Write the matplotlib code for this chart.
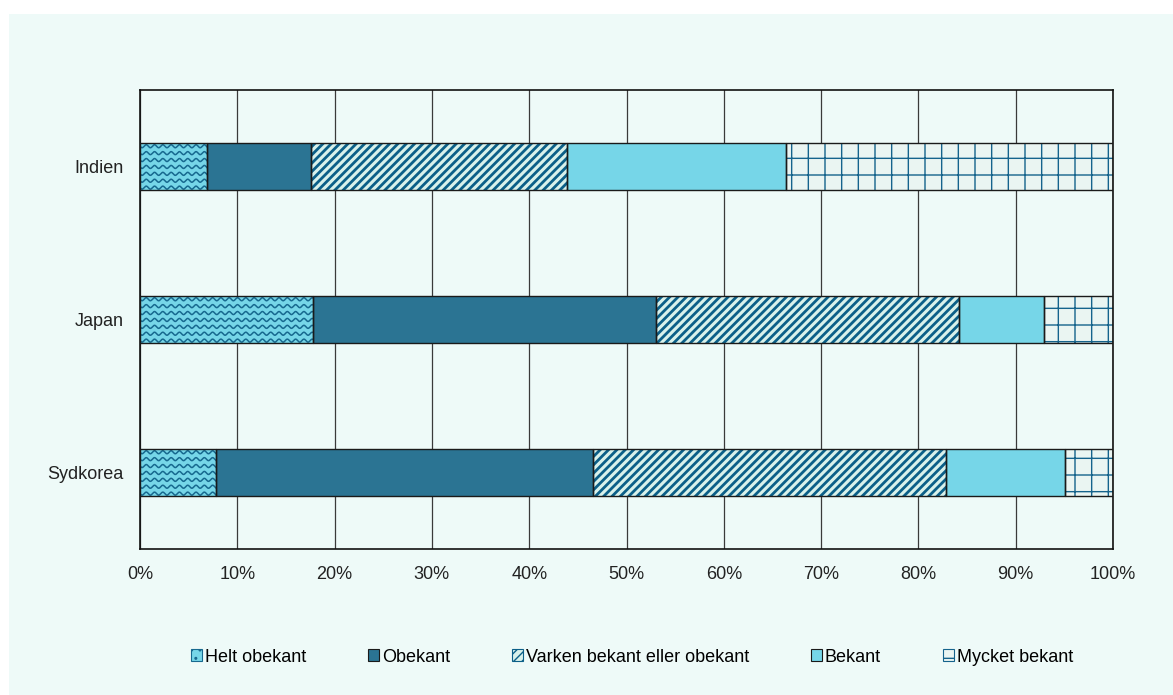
import numpy as np
import matplotlib.pyplot as plt
from matplotlib.patches import Patch, Rectangle

plt.rcParams['font.family'] = ['Liberation Sans', 'DejaVu Sans']

countries = ['Indien', 'Japan', 'Sydkorea']
labels = ['Helt obekant', 'Obekant', 'Varken bekant eller obekant', 'Bekant', 'Mycket bekant']
helt_obekant = [6.9, 17.8, 7.8]
obekant = [10.7, 35.2, 38.8]
varken = [26.3, 31.2, 36.2]
bekant = [22.5, 8.7, 12.3]
mycket_bekant = [33.6, 7.1, 4.9]
series = [helt_obekant, obekant, varken, bekant, mycket_bekant]

# fill, hatch, hatch colour, hatch linewidth
styles = [
    ('#76d6e8', None, '#17698f', 1.0),
    ('#2b7493', None, '#2b7493', 1.0),
    ('#d8f1eb', '////', '#0b5f88', 2.0),
    ('#76d6e8', None, '#76d6e8', 1.0),
    ('#eaf5f2', '+', '#15638c', 1.0),
]

fig = plt.figure(figsize=(11.73, 6.95), dpi=100, facecolor='white')
fig.patches.append(Rectangle((9 / 1173, 0), 1, 1 - 14 / 695, transform=fig.transFigure,
                             facecolor='#eefaf8', edgecolor='none', zorder=-10))
ax = fig.add_axes([140 / 1173, 1 - 549 / 695, 973 / 1173, 459 / 695])
ax.set_facecolor('#eefaf8')

y = np.arange(len(countries))
left = np.zeros(len(countries))
bar_groups = []
for vals, (fc, hatch, hc, hlw) in zip(series, styles):
    with plt.rc_context({'hatch.linewidth': hlw}):
        bars = ax.barh(y, vals, left=left, height=0.31, color=fc, hatch=hatch,
                       edgecolor=hc, linewidth=0, zorder=2)
    for b in bars:
        if hasattr(b, 'set_hatch_linewidth'):
            b.set_hatch_linewidth(hlw)
    # black outline on top
    ax.barh(y, vals, left=left, height=0.31, facecolor='none', edgecolor='#1a1a1a',
            linewidth=1.0, zorder=4)
    bar_groups.append(bars)
    left += np.array(vals)

ax.set_xlim(0, 100)
ax.set_ylim(len(countries) - 0.5, -0.5)

# wavy pattern for "Helt obekant"
ppx = ax.bbox.width / 100
ppy = ax.bbox.height / 3
period = 8.3 / ppx
amp = 1.5 / ppy
step = 6.9 / ppy
for b in bar_groups[0]:
    x0, w = b.get_x(), b.get_width()
    y0, h = b.get_y(), b.get_height()
    xs = np.linspace(x0, x0 + w, 400)
    for yy in np.arange(y0 + step * 0.5, y0 + h, step):
        line, = ax.plot(xs, yy + amp * np.sin(2 * np.pi * (xs - x0) / period),
                        color='#17698f', linewidth=1.1, zorder=3)
        line.set_clip_path(b)

ax.set_xticks(np.arange(0, 101, 10))
ax.set_xticklabels([f'{v}%' for v in range(0, 101, 10)])
ax.set_yticks(y)
ax.set_yticklabels(countries)
ax.tick_params(length=0, labelsize=13, labelcolor='#222222')
ax.tick_params(axis='x', pad=12)
ax.tick_params(axis='y', pad=12)
ax.grid(axis='x', color='#3a3a3a', linewidth=0.9, zorder=0)
ax.set_axisbelow(True)
for s in ax.spines.values():
    s.set_color('#111111')
    s.set_linewidth(1.2)

handles = [Patch(facecolor=fc, hatch=h, edgecolor=hc if hc != fc else '#1a1a1a', linewidth=0.8)
           for fc, h, hc, _ in styles]
handles[0] = Patch(facecolor=styles[0][0], hatch='..', edgecolor=styles[0][2], linewidth=0.8)
fig.legend(handles, labels, loc='center', bbox_to_anchor=(0.539, 1 - 657 / 695), ncol=5,
           frameon=False, fontsize=13, handlelength=0.6, handleheight=0.6,
           handletextpad=0.15, columnspacing=3.45)

fig.savefig('out.png', dpi=100, facecolor='white')
